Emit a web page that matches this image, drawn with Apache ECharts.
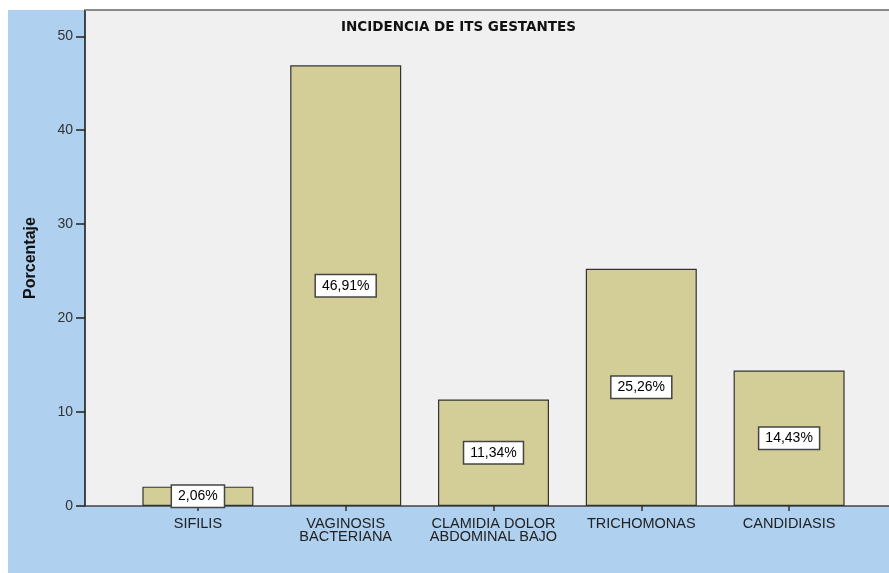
<!DOCTYPE html>
<html>
<head>
<meta charset="utf-8">
<script src="https://cdn.jsdelivr.net/npm/echarts@6/dist/echarts.min.js"></script>
<style>html,body{margin:0;padding:0;background:#fff;}#c{width:889px;height:573px;}</style>
</head>
<body>
<div id="c"></div>
<script>
var titleText = 'INCIDENCIA DE ITS GESTANTES';
var yAxisName = 'Porcentaje';
var categories = ['SIFILIS', 'VAGINOSIS\nBACTERIANA', 'CLAMIDIA DOLOR\nABDOMINAL BAJO', 'TRICHOMONAS', 'CANDIDIASIS'];
var values = [2.06, 46.91, 11.34, 25.26, 14.43];

var yMin = 0, yMax = 52.8, yInterval = 10;
var chart = echarts.init(document.getElementById('c'));
chart.setOption({
  animation: false,
  backgroundColor: '#ffffff',
  graphic: [
    { type: 'rect', z: -10, silent: true, shape: { x: 8, y: 10, width: 881, height: 563 }, style: { fill: '#AFD0EE' } },
    { type: 'line', z: 100, silent: true, shape: { x1: 85, y1: 10, x2: 889, y2: 10 }, style: { stroke: '#8a8a8a', lineWidth: 2 } }
  ],
  title: {
    text: titleText,
    left: 336, top: 15,
    textStyle: { fontFamily: 'DejaVu Sans', fontWeight: 'bold', fontSize: 13.5, color: '#111' }
  },
  grid: [
    { left: 85, right: 0, top: 10, bottom: 67, show: true, backgroundColor: '#F0F0F0', borderWidth: 0 },
    { left: 124, right: 26, top: 10, bottom: 67 }
  ],
  xAxis: [
    { gridIndex: 0, type: 'value', min: 0, max: 1, axisLine: { show: true, lineStyle: { color: '#444', width: 1.5 } }, axisTick: { show: false }, axisLabel: { show: false }, splitLine: { show: false } },
    { gridIndex: 1, type: 'category', data: categories, axisLine: { show: false },
      axisTick: { show: true, alignWithLabel: true, length: 5, lineStyle: { color: '#333', width: 1.5 } },
      axisLabel: { margin: 11, fontFamily: 'Liberation Sans', fontSize: 14.5, lineHeight: 13, color: '#222', interval: 0 } }
  ],
  yAxis: [
    { gridIndex: 0, type: 'value', min: yMin, max: yMax, interval: yInterval,
      name: yAxisName, nameLocation: 'middle', nameGap: 46,
      nameTextStyle: { fontFamily: 'Liberation Sans', fontWeight: 'bold', fontSize: 16, color: '#111' },
      axisLine: { show: true, lineStyle: { color: '#111', width: 1.5 } },
      axisTick: { show: true, length: 9, lineStyle: { color: '#222', width: 1.5 } },
      axisLabel: { margin: 12, fontFamily: 'Liberation Sans', fontSize: 14, color: '#333', showMaxLabel: false,
        formatter: function (v) { return v % 10 === 0 ? String(v) : ''; } },
      splitLine: { show: false } },
    { gridIndex: 1, type: 'value', min: yMin, max: yMax, interval: yInterval, show: false }
  ],
  series: [{
    type: 'bar',
    xAxisIndex: 1, yAxisIndex: 1,
    data: values,
    barWidth: 111,
    itemStyle: { color: '#D3CE98', borderColor: '#333', borderWidth: 1.2 },
    label: {
      show: true, position: 'inside',
      formatter: function (p) { return p.value.toFixed(2).replace('.', ',') + '%'; },
      fontFamily: 'Liberation Sans', fontSize: 14, color: '#000',
      backgroundColor: '#fff', borderColor: '#444', borderWidth: 1.5, padding: [4, 6, 3, 6]
    }
  }]
});
</script>
</body>
</html>
